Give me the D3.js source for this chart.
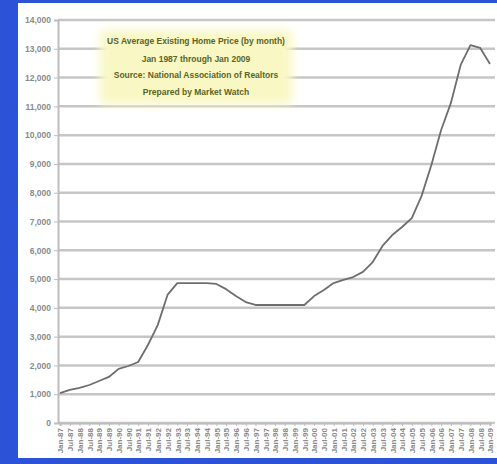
<!DOCTYPE html>
<html>
<head>
<meta charset="utf-8">
<script src="https://cdn.jsdelivr.net/npm/d3@7"></script>
<style>
  html, body { margin: 0; padding: 0; background: #2c52d8; }
  svg { display: block; }
</style>
</head>
<body>
<div id="chart"></div>
<script>
// semi-annual labels, Jan-87 .. Jan-09
const months = ["Jan", "Jul"]
const periods = []
for (let y = 1987; y <= 2009; y++) {
  for (const m of months) {
    if (y === 2009 && m === "Jul") continue
    periods.push(m + "-" + String(y).slice(2))
  }
}

// values, one per label
const prices = [
  1040, 1150, 1220, 1320, 1460, 1600, 1880, 1980, 2120, 2710,
  3400, 4450, 4860, 4860, 4860, 4860, 4830, 4650, 4410, 4200,
  4100, 4100, 4100, 4100, 4100, 4100, 4410, 4620, 4860, 4970,
  5070, 5250, 5590, 6150, 6530, 6810, 7120, 7890, 8960, 10180,
  11120, 12440, 13130, 13030, 12470
]

const yTicks = d3.range(0, 14001, 1000)

const titleLines = [
  "US Average Existing Home Price (by month)",
  "Jan 1987 through Jan 2009",
  "Source: National Association of Realtors",
  "Prepared by Market Watch"
]

const width = 497
const height = 464

const svg = d3.select("#chart")
  .append("svg")
  .attr("width", width)
  .attr("height", height)

const defs = svg.append("defs")
defs.append("filter")
  .attr("id", "soft")
  .attr("x", "-20%").attr("y", "-30%").attr("width", "140%").attr("height", "160%")
  .append("feGaussianBlur")
  .attr("stdDeviation", 5)

// white panel
svg.append("rect")
  .attr("x", 18).attr("y", 3)
  .attr("width", 479).attr("height", 455)
  .attr("fill", "#ffffff")

const x = d3.scalePoint()
  .domain(periods)
  .range([60, 490])

const y = d3.scaleLinear()
  .domain([0, 14000])
  .range([423, 20])

// gridlines
svg.append("g")
  .selectAll("line")
  .data(yTicks)
  .enter()
  .append("line")
  .attr("x1", 58)
  .attr("x2", 495)
  .attr("y1", d => y(d))
  .attr("y2", d => y(d))
  .style("stroke", "#c6c6c6")
  .style("stroke-width", 2.5)

// y axis
const yAxis = svg.append("g")
  .attr("transform", "translate(58,0)")
  .call(d3.axisLeft(y).tickValues(yTicks).tickSize(4).tickPadding(3))
yAxis.select(".domain").attr("stroke", "#bdbdbd").attr("stroke-width", 2)
yAxis.selectAll(".tick line").attr("stroke", "#bdbdbd")
yAxis.selectAll("text")
  .attr("fill", "#8a8a8a")
  .style("font-family", "Liberation Sans, Arial, sans-serif")
  .style("font-size", "8.5px")
  .style("font-weight", "bold")

// x axis
const xAxis = svg.append("g")
  .attr("transform", "translate(0,423)")
  .call(d3.axisBottom(x).tickSize(3))
xAxis.select(".domain").attr("stroke", "#bdbdbd").attr("stroke-width", 2)
xAxis.selectAll(".tick line").attr("stroke", "#bdbdbd")
xAxis.selectAll("text")
  .attr("fill", "#8a8a8a")
  .style("font-family", "Liberation Sans, Arial, sans-serif")
  .style("font-size", "8px")
  .style("font-weight", "bold")
  .attr("text-anchor", "end")
  .attr("x", -5)
  .attr("y", 0)
  .attr("dy", "0.35em")
  .attr("transform", "rotate(-90)")

// price line
const line = d3.line()
  .x((d, i) => x(periods[i]))
  .y(d => y(d))

svg.append("path")
  .datum(prices)
  .attr("d", line)
  .attr("fill", "none")
  .style("stroke", "#6e6e6e")
  .style("stroke-width", 1.8)
  .style("stroke-linejoin", "round")

// title box
svg.append("rect")
  .attr("x", 100).attr("y", 30)
  .attr("width", 192).attr("height", 74)
  .attr("fill", "#f9f8c4")
  .attr("filter", "url(#soft)")
const cx = 196
const lineY = [44, 62, 78, 95]
svg.append("g")
  .selectAll("text")
  .data(titleLines)
  .enter()
  .append("text")
  .attr("x", cx)
  .attr("y", (d, i) => lineY[i])
  .attr("text-anchor", "middle")
  .attr("fill", "#5a6428")
  .style("font-family", "Liberation Sans, Arial, sans-serif")
  .style("font-size", "8.5px")
  .style("font-weight", "bold")
  .text(d => d)
</script>
</body>
</html>
